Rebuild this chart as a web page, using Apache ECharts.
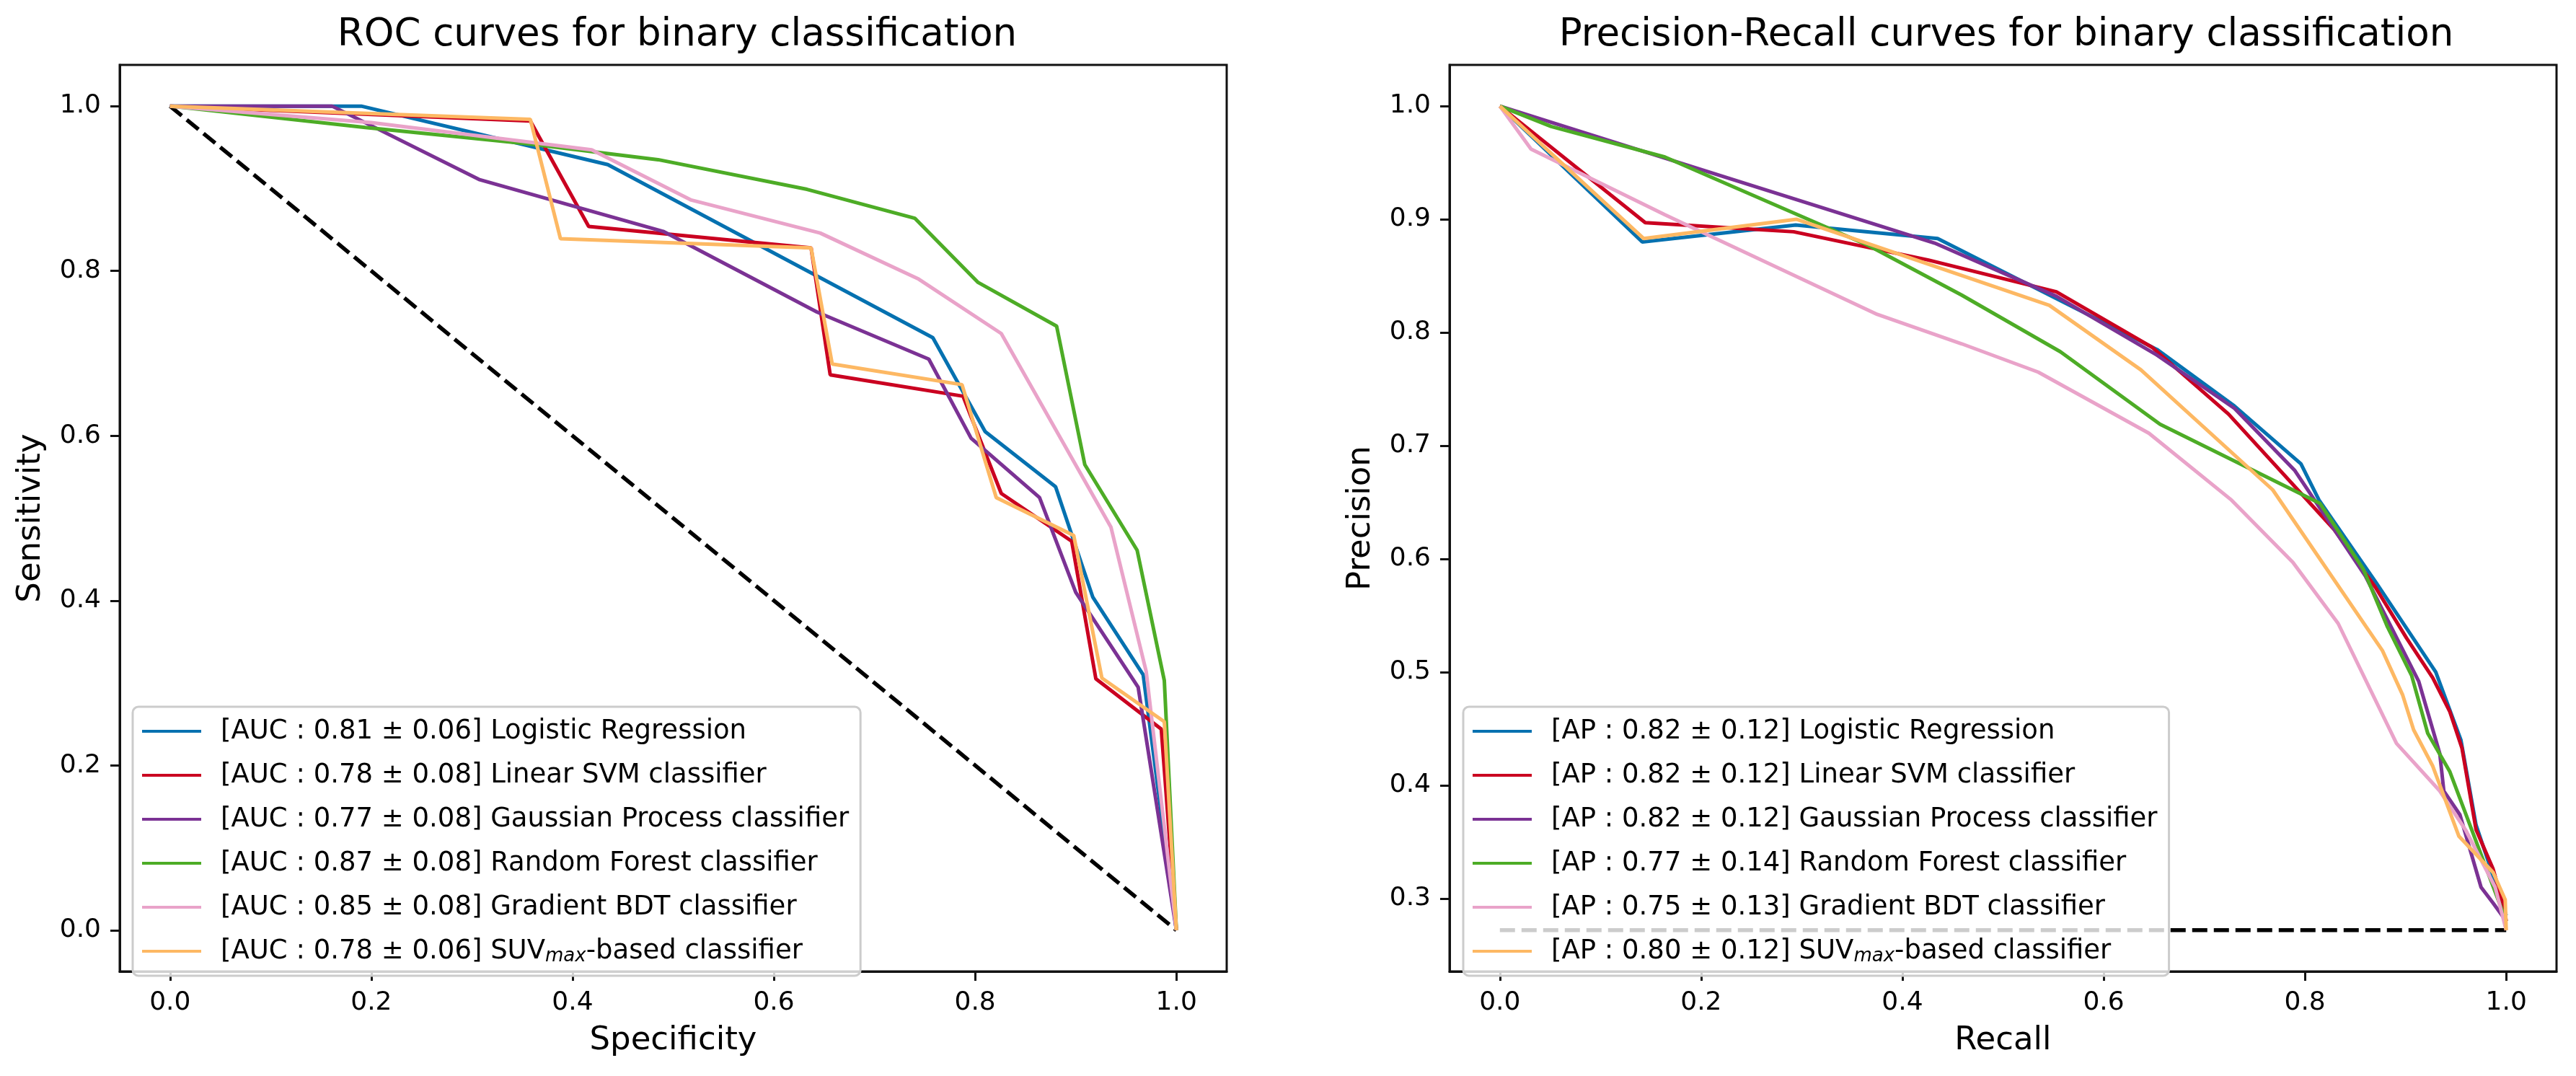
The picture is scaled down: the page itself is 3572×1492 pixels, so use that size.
<!DOCTYPE html>
<html>
<head>
<meta charset="utf-8">
<title>ROC and Precision-Recall curves</title>
<script src="https://cdn.jsdelivr.net/npm/echarts@6/dist/echarts.min.js"></script>
<style>
    html, body { margin: 0; padding: 0; background: #fff; }
    #chart { width: 3572px; height: 1492px; }
</style>
</head>
<body>
<div id="chart"></div>
<script>
// classifiers, in plotting order
var classifiers = ['Logistic Regression', 'Linear SVM classifier', 'Gaussian Process classifier',
    'Random Forest classifier', 'Gradient BDT classifier', 'SUVmax-based classifier'];
var colors = ['#0571b0', '#ca0020', '#7b3294', '#4dac26', '#e9a3c9', '#fdb863'];
var aucScores = ['0.81 ± 0.06', '0.78 ± 0.08', '0.77 ± 0.08', '0.87 ± 0.08', '0.85 ± 0.08', '0.78 ± 0.06'];
var apScores = ['0.82 ± 0.12', '0.82 ± 0.12', '0.82 ± 0.12', '0.77 ± 0.14', '0.75 ± 0.13', '0.80 ± 0.12'];

// ROC curves: [specificity, sensitivity]
var rocLR = [[0, 1], [0.19, 1.0], [0.435, 0.929], [0.758, 0.719], [0.81, 0.605], [0.88, 0.538],
    [0.917, 0.404], [0.967, 0.31], [1.0, 0.0]];
var rocSVM = [[0, 1], [0.358, 0.982], [0.416, 0.854], [0.637, 0.828], [0.656, 0.674], [0.788, 0.648],
    [0.826, 0.53], [0.896, 0.472], [0.92, 0.305], [0.985, 0.244], [1.0, 0.0]];
var rocGP = [[0, 1], [0.161, 1.0], [0.307, 0.911], [0.49, 0.848], [0.643, 0.75], [0.754, 0.693],
    [0.796, 0.597], [0.864, 0.525], [0.90, 0.41], [0.962, 0.295], [1.0, 0.0]];
var rocRF = [[0, 1], [0.194, 0.974], [0.358, 0.954], [0.485, 0.935], [0.633, 0.899], [0.74, 0.864],
    [0.803, 0.786], [0.881, 0.733], [0.909, 0.565], [0.961, 0.461], [0.988, 0.303], [1.0, 0.0]];
var rocGBDT = [[0, 1], [0.2, 0.98], [0.419, 0.947], [0.518, 0.886], [0.646, 0.846], [0.744, 0.79],
    [0.826, 0.724], [0.935, 0.489], [0.97, 0.314], [1.0, 0.0]];
var rocSUV = [[0, 1], [0.358, 0.984], [0.388, 0.839], [0.637, 0.828], [0.658, 0.687], [0.787, 0.662],
    [0.821, 0.525], [0.898, 0.479], [0.926, 0.306], [0.988, 0.253], [1.0, 0.0]];
var rocChance = [[0, 1], [1, 0]];

// Precision-Recall curves: [recall, precision]
var prLR = [[0, 1], [0.1415, 0.88], [0.294, 0.895], [0.435, 0.883], [0.653, 0.785], [0.73, 0.735],
    [0.796, 0.684], [0.814, 0.652], [0.87, 0.58], [0.93, 0.5], [0.955, 0.44], [0.97, 0.365],
    [0.987, 0.32], [1.0, 0.285]];
var prSVM = [[0, 1], [0.1445, 0.897], [0.292, 0.889], [0.426, 0.864], [0.553, 0.836], [0.648, 0.787],
    [0.724, 0.728], [0.829, 0.626], [0.87, 0.575], [0.901, 0.53], [0.927, 0.495], [0.944, 0.465],
    [0.956, 0.433], [0.97, 0.361], [0.987, 0.326], [0.998, 0.291], [1.0, 0.28]];
var prGP = [[0, 1], [0.432, 0.879], [0.553, 0.832], [0.653, 0.78], [0.73, 0.733], [0.79, 0.678],
    [0.86, 0.585], [0.913, 0.492], [0.934, 0.428], [0.938, 0.395], [0.954, 0.374], [0.975, 0.31],
    [0.987, 0.296], [1.0, 0.28]];
var prRF = [[0, 1], [0.051, 0.982], [0.164, 0.955], [0.366, 0.877], [0.459, 0.833], [0.557, 0.783],
    [0.656, 0.719], [0.815, 0.649], [0.858, 0.591], [0.882, 0.54], [0.906, 0.497], [0.922, 0.446],
    [0.944, 0.412], [1.0, 0.28]];
var prGBDT = [[0, 1], [0.031, 0.962], [0.164, 0.904], [0.375, 0.816], [0.459, 0.79], [0.535, 0.765],
    [0.645, 0.711], [0.727, 0.652], [0.788, 0.597], [0.833, 0.543], [0.891, 0.437], [0.934, 0.395],
    [0.96, 0.36], [0.989, 0.31], [1.0, 0.272]];
var prSUV = [[0, 1], [0.143, 0.883], [0.295, 0.9], [0.546, 0.824], [0.637, 0.767], [0.768, 0.661],
    [0.877, 0.519], [0.897, 0.48], [0.908, 0.449], [0.927, 0.417], [0.953, 0.355], [0.987, 0.323],
    [0.999, 0.299], [1.0, 0.272]];
var prChance = [[0, 0.272], [1, 0.272]];

// tick labels
var unitTicks = [0, 0.2, 0.4, 0.6, 0.8, 1.0];
var precisionTicks = [0.3, 0.4, 0.5, 0.6, 0.7, 0.8, 0.9, 1.0];

var rocCurves = [rocLR, rocSVM, rocGP, rocRF, rocGBDT, rocSUV];
var prCurves = [prLR, prSVM, prGP, prRF, prGBDT, prSUV];

var FONT = 'DejaVu Sans';

function legendLabel(prefix, score, name) {
    return '[' + prefix + ' : ' + score + '] ' + name;
}

// SUV with a subscript "max"
function legendFormatter(name) {
    var i = name.indexOf('SUVmax');
    if (i < 0) {
        return '{n|' + name + '}';
    }
    return '{n|' + name.substring(0, i) + 'SUV}{s|max}{n|' + name.substring(i + 6) + '}';
}

function makeAxis(gridIndex, min, max, ticks, name, nameGap) {
    return {
        type: 'value',
        gridIndex: gridIndex,
        min: min,
        max: max,
        name: name,
        nameLocation: 'middle',
        nameGap: nameGap,
        nameTextStyle: { fontFamily: FONT, fontSize: 45, color: '#000' },
        axisLine: { show: true, onZero: false, lineStyle: { color: '#111', width: 3 } },
        axisTick: { show: true, length: 13, lineStyle: { color: '#111', width: 3 }, customValues: ticks },
        axisLabel: {
            customValues: ticks,
            margin: 26,
            fontFamily: FONT,
            fontSize: 36,
            color: '#000',
            formatter: function (v) { return v.toFixed(1); }
        },
        splitLine: { show: false }
    };
}

function makeLegend(left, names) {
    return {
        orient: 'vertical',
        left: left,
        top: 980,
        data: names,
        icon: 'rect',
        itemWidth: 82,
        itemHeight: 4,
        itemGap: 21,
        padding: [14, 16, 14, 13],
        backgroundColor: 'rgba(255,255,255,0.8)',
        borderColor: '#cccccc',
        borderWidth: 3,
        borderRadius: 8,
        selectedMode: false,
        formatter: legendFormatter,
        textStyle: {
            fontFamily: FONT,
            fontSize: 37,
            lineHeight: 40,
            padding: [0, 0, 0, 22],
            rich: {
                n: { fontFamily: FONT, fontSize: 37, color: '#000', lineHeight: 40 },
                s: { fontFamily: FONT, fontSize: 26, fontStyle: 'italic', color: '#000', lineHeight: 18, verticalAlign: 'bottom' }
            }
        }
    };
}

var series = [];
var rocNames = [];
var prNames = [];

series.push({
    type: 'line', xAxisIndex: 0, yAxisIndex: 0, data: rocChance, symbol: 'none', silent: true,
    lineStyle: { color: '#000', width: 5.5, type: [21, 9] }, z: 1
});
series.push({
    type: 'line', xAxisIndex: 1, yAxisIndex: 1, data: prChance, symbol: 'none', silent: true,
    lineStyle: { color: '#000', width: 5.5, type: [21, 9] }, z: 1
});

for (var i = 0; i < classifiers.length; i++) {
    var rocName = legendLabel('AUC', aucScores[i], classifiers[i]);
    var prName = legendLabel('AP', apScores[i], classifiers[i]);
    rocNames.push(rocName);
    prNames.push(prName);
    series.push({
        name: rocName, type: 'line', xAxisIndex: 0, yAxisIndex: 0, data: rocCurves[i],
        symbol: 'none', color: colors[i], lineStyle: { color: colors[i], width: 5 }, z: 2 + i
    });
    series.push({
        name: prName, type: 'line', xAxisIndex: 1, yAxisIndex: 1, data: prCurves[i],
        symbol: 'none', color: colors[i], lineStyle: { color: colors[i], width: 5 }, z: 2 + i
    });
}

var chart = echarts.init(document.getElementById('chart'));
var option = {
    animation: false,
    backgroundColor: '#fff',
    title: [{
        text: 'ROC curves for binary classification',
        left: 934, top: 18, textAlign: 'center',
        textStyle: { fontFamily: FONT, fontSize: 53, fontWeight: 'normal', color: '#000' }
    }, {
        text: 'Precision-Recall curves for binary classification',
        left: 2777, top: 18, textAlign: 'center',
        textStyle: { fontFamily: FONT, fontSize: 53, fontWeight: 'normal', color: '#000' }
    }],
    grid: [
        { left: 166, top: 90, width: 1535, height: 1257, show: true, borderColor: '#111', borderWidth: 3 },
        { left: 2010, top: 90, width: 1535, height: 1257, show: true, borderColor: '#111', borderWidth: 3 }
    ],
    xAxis: [
        makeAxis(0, -0.05, 1.05, unitTicks, 'Specificity', 74),
        makeAxis(1, -0.05, 1.05, unitTicks, 'Recall', 74)
    ],
    yAxis: [
        makeAxis(0, -0.05, 1.05, unitTicks, 'Sensitivity', 100),
        makeAxis(1, 0.2356, 1.0364, precisionTicks, 'Precision', 100)
    ],
    legend: [makeLegend(184, rocNames), makeLegend(2029, prNames)],
    series: series
};
chart.setOption(option);
</script>
</body>
</html>
